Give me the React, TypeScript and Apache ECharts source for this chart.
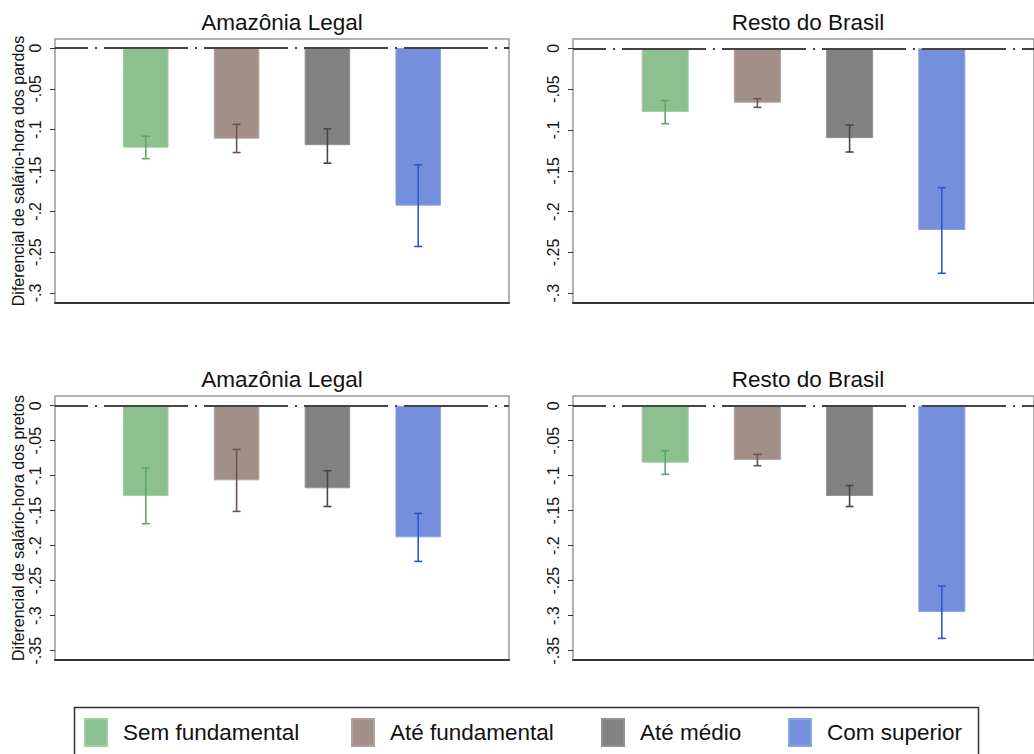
import React, { useEffect, useRef } from "react";
import * as echarts from "echarts";

const categories = ["Sem fundamental", "Até fundamental", "Até médio", "Com superior"];
const barColors = ["#8cc08e", "#a28f88", "#818181", "#7490dc"];
const barBorders = ["#9fcda1", "#b2a19a", "#929292", "#8aa2e6"];
const errColors = ["#5fa866", "#6b5550", "#474747", "#2d55d6"];
const panelTitles = ["Amazônia Legal", "Resto do Brasil", "Amazônia Legal", "Resto do Brasil"];
const yAxisTitles = ["Diferencial de salário-hora dos pardos", "Diferencial de salário-hora dos pretos"];

const pardosAmazonia = [-0.122, -0.111, -0.119, -0.193];
const pardosAmazoniaLow = [-0.1355, -0.128, -0.141, -0.243];
const pardosAmazoniaHigh = [-0.108, -0.0935, -0.099, -0.143];
const pardosResto = [-0.078, -0.0666, -0.11, -0.2225];
const pardosRestoLow = [-0.0923, -0.0723, -0.127, -0.2755];
const pardosRestoHigh = [-0.064, -0.0617, -0.094, -0.1707];
const pretosAmazonia = [-0.129, -0.1066, -0.118, -0.188];
const pretosAmazoniaLow = [-0.1686, -0.151, -0.144, -0.2224];
const pretosAmazoniaHigh = [-0.089, -0.0624, -0.0929, -0.1538];
const pretosResto = [-0.0814, -0.0776, -0.129, -0.2948];
const pretosRestoLow = [-0.098, -0.0857, -0.144, -0.3324];
const pretosRestoHigh = [-0.0643, -0.0695, -0.114, -0.2576];

const yTicksPardos = [0, -0.05, -0.1, -0.15, -0.2, -0.25, -0.3];
const yTicksPretos = [0, -0.05, -0.1, -0.15, -0.2, -0.25, -0.3, -0.35];

const FONT = "'Liberation Sans', Arial, sans-serif";

const panels = [
  { values: pardosAmazonia, low: pardosAmazoniaLow, high: pardosAmazoniaHigh, ticks: yTicksPardos, min: -0.3122, max: 0.011, grid: { left: 55, top: 39, width: 454, height: 264 }, barWidth: 45.5, titleX: 282, yTitle: yAxisTitles[0] },
  { values: pardosResto, low: pardosRestoLow, high: pardosRestoHigh, ticks: yTicksPardos, min: -0.3119, max: 0.0114, grid: { left: 573, top: 39, width: 471, height: 264 }, barWidth: 47, titleX: 808, yTitle: "" },
  { values: pretosAmazonia, low: pretosAmazoniaLow, high: pretosAmazoniaHigh, ticks: yTicksPretos, min: -0.3633, max: 0.0139, grid: { left: 55, top: 396, width: 454, height: 264 }, barWidth: 45.5, titleX: 282, yTitle: yAxisTitles[1] },
  { values: pretosResto, low: pretosRestoLow, high: pretosRestoHigh, ticks: yTicksPretos, min: -0.3633, max: 0.0139, grid: { left: 573, top: 396, width: 471, height: 264 }, barWidth: 47, titleX: 808, yTitle: "" },
];

const legendLefts = [84, 351, 601, 788];

function fmt(v: number): string {
  const r = Math.round(v * 100) / 100;
  if (r === 0) return "0";
  return "-" + String(Math.abs(r)).replace(/^0/, "");
}

export default function App() {
  const ref = useRef<HTMLDivElement>(null);
  useEffect(() => {
    if (!ref.current) return;
    const chart = echarts.init(ref.current, undefined, { renderer: "svg" });
    const series: any[] = [];
    panels.forEach((p, pi) => {
      categories.forEach((name, ci) => {
        const s: any = {
          type: "bar",
          name,
          xAxisIndex: pi,
          yAxisIndex: pi,
          stack: "p" + pi,
          barWidth: p.barWidth,
          data: [[ci + 1, p.values[ci]]],
          itemStyle: { color: barColors[ci], borderColor: barBorders[ci], borderWidth: 1 },
        };
        if (ci === 0) {
          s.markLine = {
            silent: true,
            symbol: ["none", "none"],
            label: { show: false },
            lineStyle: { color: "#444", width: 2, type: [84, 7, 2, 7], dashOffset: 50.5 },
            data: [{ yAxis: 0 }],
            z: 5,
          };
        }
        series.push(s);
      });
      series.push({
        type: "custom",
        xAxisIndex: pi,
        yAxisIndex: pi,
        z: 10,
        encode: { x: 0, y: [1, 2] },
        data: categories.map((_, ci) => [ci + 1, p.low[ci], p.high[ci], ci]),
        renderItem: (params: any, api: any) => {
          const x = api.value(0);
          const lo = api.coord([x, api.value(1)]);
          const hi = api.coord([x, api.value(2)]);
          const c = api.value(3);
          const half = 4;
          const style = { stroke: errColors[c], lineWidth: 1.6 };
          return {
            type: "group",
            children: [
              { type: "line", shape: { x1: lo[0], y1: lo[1], x2: hi[0], y2: hi[1] }, style },
              { type: "line", shape: { x1: lo[0] - half, y1: lo[1], x2: lo[0] + half, y2: lo[1] }, style },
              { type: "line", shape: { x1: hi[0] - half, y1: hi[1], x2: hi[0] + half, y2: hi[1] }, style },
            ],
          };
        },
      });
    });

    const option: any = {
      animation: false,
      backgroundColor: "#ffffff",
      textStyle: { fontFamily: FONT },
      title: panels.map((p, pi) => ({
        text: panelTitles[pi],
        left: p.titleX,
        top: p.grid.top - 28,
        textAlign: "center",
        padding: 0,
        textStyle: { fontSize: 22.5, fontWeight: "normal", color: "#111", fontFamily: FONT },
      })),
      legend: categories.map((name, ci) => ({
        data: [name],
        left: legendLefts[ci],
        top: 718,
        padding: 0,
        icon: "rect",
        itemWidth: 22,
        itemHeight: 27,
        selectedMode: false,
        textStyle: { fontSize: 22.5, color: "#111", fontFamily: FONT, padding: [0, 0, 0, 11] },
      })),
      grid: panels.map((p) => ({ ...p.grid, show: true, borderColor: "#999", borderWidth: 1.5, backgroundColor: "transparent" })),
      xAxis: panels.map((p, pi) => ({
        type: "value",
        gridIndex: pi,
        min: 0,
        max: 5,
        axisLine: { show: true, onZero: false, lineStyle: { color: "#333", width: 2 } },
        axisTick: { show: false },
        axisLabel: { show: false },
        splitLine: { show: false },
      })),
      yAxis: panels.map((p, pi) => ({
        type: "value",
        gridIndex: pi,
        min: p.min,
        max: p.max,
        name: p.yTitle,
        nameLocation: "middle",
        nameRotate: 90,
        nameGap: 29,
        nameTextStyle: { fontSize: 16, color: "#111", fontFamily: FONT },
        axisLine: { show: false },
        axisTick: { show: true, length: 5, customValues: p.ticks, lineStyle: { color: "#333", width: 1 } },
        axisLabel: { show: true, rotate: 90, margin: 12, fontSize: 16, color: "#111", fontFamily: FONT, customValues: p.ticks, formatter: (v: number) => fmt(v) },
        splitLine: { show: false },
      })),
      graphic: [
        {
          type: "rect",
          left: 72,
          top: 705,
          shape: { width: 904, height: 60 },
          style: { fill: "none", stroke: "#333", lineWidth: 1.5 },
          z: -1,
        },
      ],
      series,
    };
    chart.setOption(option);
    return () => chart.dispose();
  }, []);
  return <div ref={ref} style={{ position: "absolute", left: 0, top: 0, width: 1034, height: 754 }} />;
}
